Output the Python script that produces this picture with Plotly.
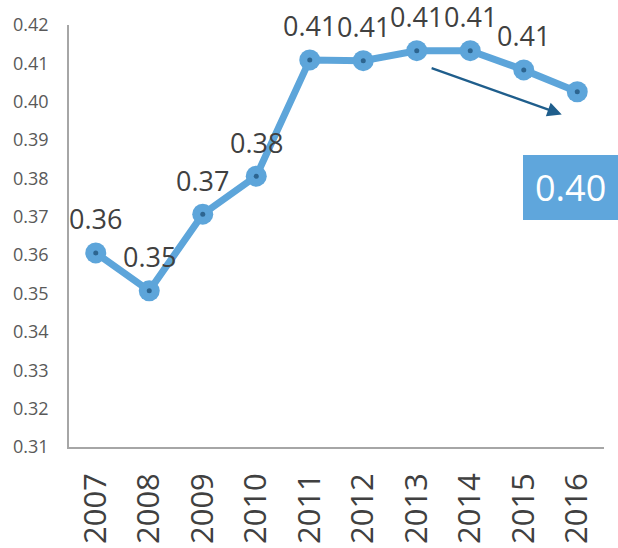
import plotly.graph_objects as go

years = ["2007", "2008", "2009", "2010", "2011", "2012", "2013", "2014", "2015", "2016"]
values = [0.3606, 0.3507, 0.3707, 0.3806, 0.4109, 0.4107, 0.4133, 0.4133, 0.4083, 0.4026]
labeled = [True, True, True, True, True, True, True, True, True, False]
y_ticks = [0.31, 0.32, 0.33, 0.34, 0.35, 0.36, 0.37, 0.38, 0.39, 0.40, 0.41, 0.42]

line_color = "#5DA5DA"
dot_color = "#2D6590"
text_color = "#404040"
axis_color = "#A6A6A6"

fig = go.Figure()
fig.add_trace(go.Scatter(
    x=years, y=values, mode="lines+markers",
    line=dict(color=line_color, width=7),
    marker=dict(size=21, color=line_color),
    hoverinfo="skip", showlegend=False,
))
fig.add_trace(go.Scatter(
    x=years, y=values, mode="markers",
    marker=dict(size=5, color=dot_color),
    hoverinfo="skip", showlegend=False,
))

for i, (v, show) in enumerate(zip(values, labeled)):
    if show:
        fig.add_annotation(
            x=i, y=v, xref="x", yref="y", text=f"{v:.2f}", showarrow=False, yshift=34,
            font=dict(family="Open Sans", size=27, color=text_color),
        )

# trend arrow
fig.add_annotation(
    x=8.71, y=0.3967, ax=6.25, ay=0.4089, xref="x", yref="y", axref="x", ayref="y",
    text="", showarrow=True, arrowhead=2, arrowsize=1.3, arrowwidth=2.2,
    arrowcolor="#1F5E8C",
)

# callout box with latest value
fig.add_shape(type="rect", xref="paper", yref="paper",
              x0=0.8486, x1=1.04, y0=0.538, y1=0.692,
              fillcolor="#5FA6DC", line=dict(width=0), layer="above")
fig.add_annotation(
    xref="paper", yref="paper", x=0.8486 + 10 / 535, y=0.615, xanchor="left", yanchor="middle",
    text=f"{values[-1]:.2f}", showarrow=False,
    font=dict(family="Open Sans", size=36, color="white"),
)

fig.update_layout(
    width=618, height=548,
    margin=dict(l=69, r=14, t=25, b=101, autoexpand=False),
    paper_bgcolor="white", plot_bgcolor="white",
    font=dict(family="Open Sans"),
    xaxis=dict(
        type="category", range=[-0.5, 9.5], automargin=False,
        showline=True, linecolor=axis_color, linewidth=1.5,
        showgrid=False, zeroline=False, tickangle=-90,
        tickfont=dict(family="Open Sans", size=31, color=text_color),
        ticks="", ticklabelstandoff=12,
    ),
    yaxis=dict(
        range=[0.31, 0.42], tickvals=y_ticks, ticktext=[f"{t:.2f}" for t in y_ticks],
        automargin=False,
        showline=True, linecolor=axis_color, linewidth=1.5,
        showgrid=False, zeroline=False,
        tickfont=dict(family="Open Sans", size=18, color="#595959"),
        ticks="", ticklabelstandoff=15,
    ),
)

fig.write_html(
    "out.html",
    config={"displayModeBar": False},
    post_script="document.body.style.margin='0';document.body.style.overflow='hidden';",
)
